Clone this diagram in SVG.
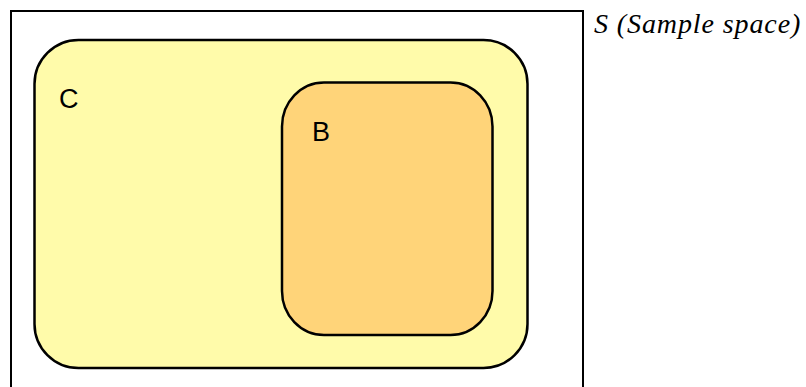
<svg xmlns="http://www.w3.org/2000/svg" width="806" height="387" viewBox="0 0 806 387">
  <style>
    .set { stroke: #000; stroke-width: 2.5; }
    .lbl { font-family: "Liberation Sans", Arial, sans-serif; font-size: 27px; fill: #000; }
    .title { font-family: "Liberation Serif", "DejaVu Serif", serif; font-style: italic; font-size: 28px; letter-spacing: 0.9px; fill: #000; }
  </style>
  <rect width="806" height="387" fill="#fff"/>
  <!-- sample space frame (open at the bottom edge) -->
  <g id="S">
    <rect x="11" y="11" width="572" height="400" fill="none" stroke="#000" stroke-width="2"/>
    <text class="title" x="594" y="33">S (Sample space)</text>
  </g>
  <g id="C">
    <rect class="set" x="34.5" y="40" width="493" height="328" rx="44" ry="44" fill="#fffbaa"/>
    <text class="lbl" x="59" y="108">C</text>
  </g>
  <g id="B">
    <rect class="set" x="282" y="82.5" width="210.5" height="252.5" rx="42" ry="44" fill="#ffd479"/>
    <text class="lbl" x="312" y="141">B</text>
  </g>
  <g id="connectors"/>
</svg>
